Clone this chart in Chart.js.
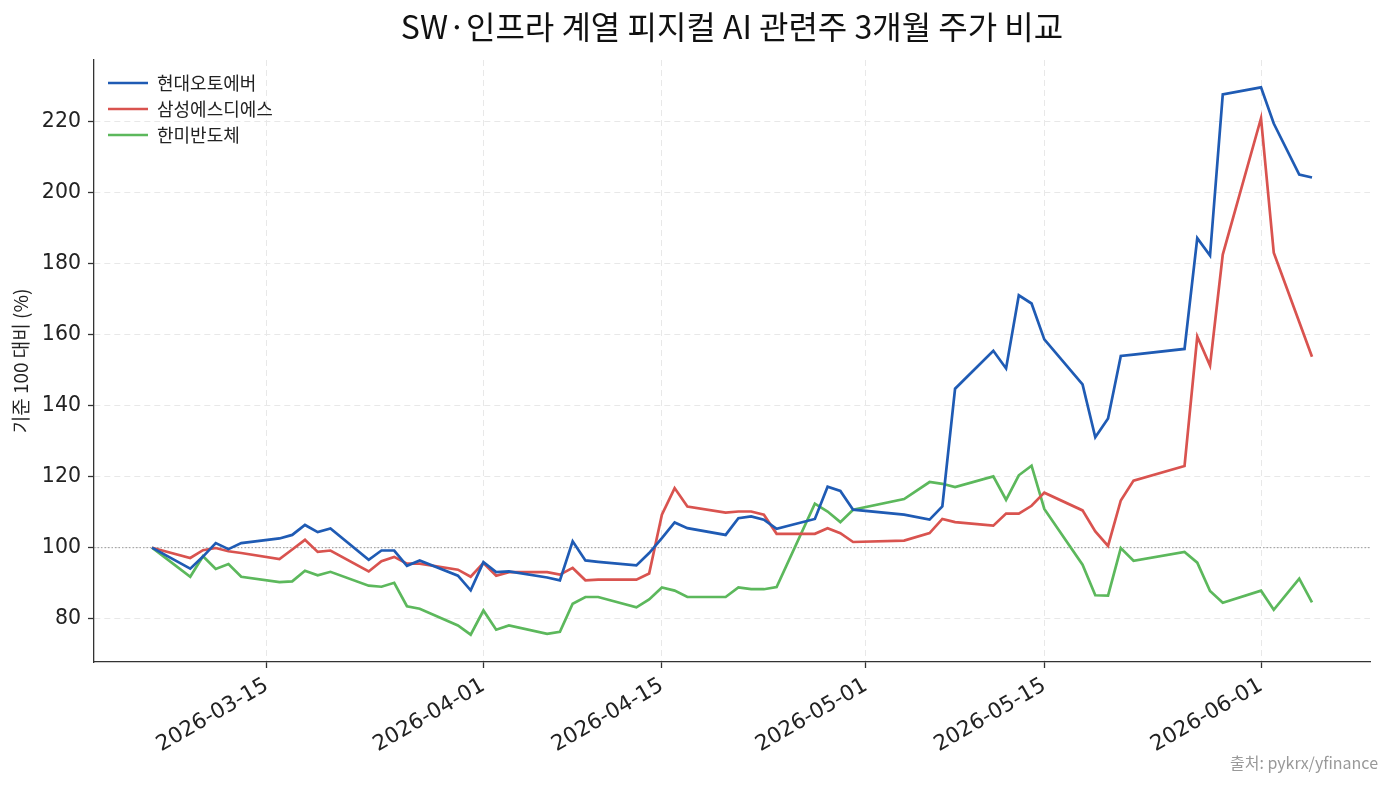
<!DOCTYPE html>
<html>
<head>
<meta charset="utf-8">
<script src="https://cdn.jsdelivr.net/npm/chart.js@4.4.1/dist/chart.umd.min.js"></script>
<style>
  html, body { margin: 0; padding: 0; background: #fff; }
  canvas { display: block; }
</style>
</head>
<body>
<canvas id="myChart" width="1393" height="786"></canvas>
<script>
// trading days (KRX), 2026-03-06 ~ 2026-06-05
const dates = [
  '2026-03-06', '2026-03-09', '2026-03-10', '2026-03-11', '2026-03-12', '2026-03-13',
  '2026-03-16', '2026-03-17', '2026-03-18', '2026-03-19', '2026-03-20',
  '2026-03-23', '2026-03-24', '2026-03-25', '2026-03-26', '2026-03-27',
  '2026-03-30', '2026-03-31', '2026-04-01', '2026-04-02', '2026-04-03',
  '2026-04-06', '2026-04-07', '2026-04-08', '2026-04-09', '2026-04-10',
  '2026-04-13', '2026-04-14', '2026-04-15', '2026-04-16', '2026-04-17',
  '2026-04-20', '2026-04-21', '2026-04-22', '2026-04-23', '2026-04-24',
  '2026-04-27', '2026-04-28', '2026-04-29', '2026-04-30',
  '2026-05-04', '2026-05-06', '2026-05-07', '2026-05-08',
  '2026-05-11', '2026-05-12', '2026-05-13', '2026-05-14', '2026-05-15',
  '2026-05-18', '2026-05-19', '2026-05-20', '2026-05-21', '2026-05-22',
  '2026-05-26', '2026-05-27', '2026-05-28', '2026-05-29',
  '2026-06-01', '2026-06-02', '2026-06-04', '2026-06-05'
];

// 현대오토에버
const hyundaiAutoever = [
  100, 94.1, 97.5, 101.3, 99.6, 101.3,
  102.6, 103.6, 106.4, 104.4, 105.4,
  96.6, 99.2, 99.2, 94.9, 96.4,
  92.1, 88.0, 95.9, 93.1, 93.3,
  91.6, 90.8, 101.8, 96.4, 96.0,
  95.0, 98.5, 102.7, 107.1, 105.5,
  103.6, 108.3, 108.8, 107.9, 105.3,
  108.1, 117.2, 116.0, 110.7,
  109.3, 107.9, 111.6, 144.8,
  155.5, 150.5, 171.1, 168.8, 158.7,
  146.0, 131.1, 136.4, 154.0, 154.4,
  156.0, 187.2, 182.3, 227.7,
  229.7, 219.5, 205.1, 204.3
];

// 삼성에스디에스
const samsungSds = [
  100, 97.1, 99.3, 99.9, 99.0, 98.5,
  96.8, 99.5, 102.2, 98.8, 99.2,
  93.3, 96.2, 97.4, 95.5, 95.5,
  93.8, 91.8, 95.7, 92.1, 93.1,
  93.1, 92.4, 94.3, 90.8, 91.0,
  91.0, 92.7, 109.3, 116.8, 111.6,
  109.9, 110.2, 110.2, 109.3, 103.9,
  103.9, 105.5, 104.1, 101.6,
  102.0, 104.1, 108.1, 107.2,
  106.2, 109.6, 109.6, 111.8, 115.5,
  110.5, 104.6, 100.5, 113.3, 118.9,
  123.0, 159.5, 151.3, 182.6,
  221.0, 183.1, 163.6, 153.8
];

// 한미반도체
const hanmiSemi = [
  100, 91.8, 97.6, 94.0, 95.4, 91.8,
  90.3, 90.5, 93.5, 92.2, 93.2,
  89.3, 89.0, 90.1, 83.5, 82.8,
  78.1, 75.5, 82.3, 76.9, 78.1,
  75.7, 76.3, 84.2, 86.1, 86.1,
  83.2, 85.4, 88.8, 87.9, 86.1,
  86.1, 88.8, 88.3, 88.3, 88.9,
  112.4, 110.2, 107.2, 110.7,
  113.7, 118.5, 118.0, 117.1,
  120.1, 113.5, 120.4, 123.1, 110.9,
  95.2, 86.6, 86.5, 99.9, 96.3,
  98.8, 95.8, 87.8, 84.5,
  87.9, 82.5, 91.3, 84.6
];

const tickDates = ['2026-03-15', '2026-04-01', '2026-04-15', '2026-05-01', '2026-05-15', '2026-06-01'];
const yTicks = [80, 100, 120, 140, 160, 180, 200, 220];

const DAY = 86400000;
function dayNum(s) {
    const p = s.split('-');
    return Date.UTC(+p[0], +p[1] - 1, +p[2]) / DAY;
}
function dayLabel(v) {
    return new Date(Math.round(v) * DAY).toISOString().slice(0, 10);
}
function points(values) {
    return dates.map((d, i) => ({x: dayNum(d), y: values[i]}));
}

// matplotlib-like 5% margins
const xFirst = dayNum(dates[0]), xLast = dayNum(dates[dates.length - 1]);
const xPad = (xLast - xFirst) * 0.05;
const allVals = hyundaiAutoever.concat(samsungSds, hanmiSemi);
const yLo = Math.min(...allVals), yHi = Math.max(...allVals);
const yPad = (yHi - yLo) * 0.05;

const KR = "'Noto Sans CJK KR', 'Noto Sans', sans-serif";
const NUM = "'DejaVu Sans', 'Noto Sans CJK KR', sans-serif";

const refLine = {
    id: 'refLine',
    beforeDatasetsDraw(chart) {
        const {ctx, chartArea, scales} = chart;
        const y = scales.y.getPixelForValue(100);
        ctx.save();
        ctx.strokeStyle = '#9a9a9a';
        ctx.lineWidth = 1;
        ctx.setLineDash([1.5, 2]);
        ctx.beginPath();
        ctx.moveTo(chartArea.left, y);
        ctx.lineTo(chartArea.right, y);
        ctx.stroke();
        ctx.restore();
    }
};

// legend inside the plot, upper left
const legendPos = {
    id: 'legendPos',
    afterLayout(chart) {
        chart.legend.left = chart.chartArea.left + 6;
        chart.legend.top = chart.chartArea.top + 6;
    }
};

const sourceNote = {
    id: 'sourceNote',
    afterDraw(chart) {
        const ctx = chart.ctx;
        ctx.save();
        ctx.font = '16px ' + KR;
        ctx.fillStyle = '#999';
        ctx.textAlign = 'right';
        ctx.textBaseline = 'middle';
        ctx.fillText('출처: pykrx/yfinance', 1378, 763);
        ctx.restore();
    }
};

const ctx = document.getElementById('myChart');

const myChart = new Chart(ctx, {
    type: 'line',
    data: {
        datasets: [{
            label: '현대오토에버',
            data: points(hyundaiAutoever),
            borderColor: '#1f5bb4',
            backgroundColor: '#1f5bb4',
            borderWidth: 2.7
        }, {
            label: '삼성에스디에스',
            data: points(samsungSds),
            borderColor: '#d9534f',
            backgroundColor: '#d9534f',
            borderWidth: 2.7
        }, {
            label: '한미반도체',
            data: points(hanmiSemi),
            borderColor: '#5cb85c',
            backgroundColor: '#5cb85c',
            borderWidth: 2.7
        }]
    },
    options: {
        responsive: false,
        animation: false,
        devicePixelRatio: 1,
        elements: {
            line: { tension: 0, fill: false },
            point: { radius: 0, hoverRadius: 0 }
        },
        layout: { padding: { left: 0, right: 23, top: 0, bottom: 0 } },
        plugins: {
            title: {
                display: true,
                text: 'SW·인프라 계열 피지컬 AI 관련주 3개월 주가 비교',
                fullSize: false,
                color: '#111',
                font: { family: KR, size: 32, weight: 'normal' },
                padding: { top: 8, bottom: 13.6 }
            },
            legend: {
                position: 'chartArea',
                align: 'start',
                labels: {
                    usePointStyle: true,
                    pointStyle: 'line',
                    pointStyleWidth: 40,
                    padding: 8,
                    color: '#222',
                    font: { family: KR, size: 18 }
                }
            },
            tooltip: { enabled: false }
        },
        scales: {
            x: {
                type: 'linear',
                min: xFirst - xPad,
                max: xLast + xPad,
                afterBuildTicks(axis) {
                    axis.ticks = tickDates.map(d => ({value: dayNum(d)}));
                },
                afterFit(axis) { axis.height = 124; },
                ticks: {
                    callback: v => dayLabel(v),
                    minRotation: 30,
                    maxRotation: 30,
                    autoSkip: false,
                    padding: 5,
                    color: '#222',
                    font: { family: NUM, size: 21.5 }
                },
                grid: { color: '#e8e8e8', lineWidth: 1, tickColor: '#333', tickLength: 6, tickWidth: 1.3 },
                border: { color: '#333', width: 1.3, dash: [6, 4] }
            },
            y: {
                min: yLo - yPad,
                max: yHi + yPad,
                afterBuildTicks(axis) {
                    axis.ticks = yTicks.map(v => ({value: v}));
                },
                afterFit(axis) { axis.width = 94; },
                ticks: {
                    padding: 7,
                    color: '#222',
                    font: { family: NUM, size: 20.5 }
                },
                grid: { color: '#e8e8e8', lineWidth: 1, tickColor: '#333', tickLength: 6, tickWidth: 1.3 },
                border: { color: '#333', width: 1.3, dash: [6, 4] },
                title: {
                    display: true,
                    text: '기준 100 대비 (%)',
                    color: '#222',
                    font: { family: KR, size: 19 },
                    padding: { top: 9, bottom: 0 }
                }
            }
        }
    },
    plugins: [refLine, legendPos, sourceNote]
});
</script>
</body>
</html>
